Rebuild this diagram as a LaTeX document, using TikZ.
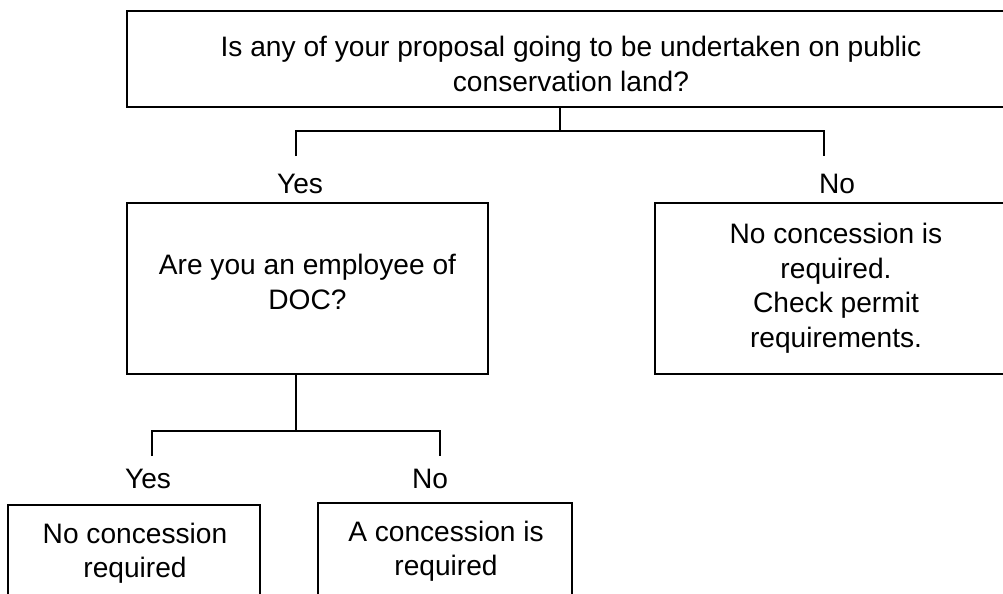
\documentclass[tikz,border=0pt]{standalone}
\usepackage{fontspec}
\setmainfont{Liberation Sans}
\newdimen\unitpx \unitpx=0.75pt
\begin{document}
\begin{tikzpicture}[x=0.75pt,y=-0.75pt,
  box/.style={draw, line width=1.2pt, inner sep=0pt, outer sep=0pt},
  txt/.style={align=center, inner sep=0pt, font=\fontsize{21.1pt}{25.9pt}\selectfont},
  lbl/.style={inner sep=0pt, anchor=base, font=\fontsize{21.1pt}{25.9pt}\selectfont},
  conn/.style={line width=1.2pt}]
\useasboundingbox (0,0) rectangle (1003,593);
\clip (0,0) rectangle (1003,593);
% boxes
\node[box, minimum width=888\unitpx, minimum height=96\unitpx] (q1) at (571,59) {};
\node[box, minimum width=361\unitpx, minimum height=171\unitpx] (q2) at (307.5,288.5) {};
\node[box, minimum width=362\unitpx, minimum height=171\unitpx] (r1) at (836,288.5) {};
\node[box, minimum width=252\unitpx, minimum height=96\unitpx] (r2) at (134,553) {};
\node[box, minimum width=254\unitpx, minimum height=98\unitpx] (r3) at (445,552) {};
% texts
\node[txt] (q1t) at (571,63.75) {Is any of your proposal going to be undertaken on public\\conservation land?};
\node[txt] (q2t) at (307.5,282) {Are you an employee of\\DOC?};
\node[txt] (r1t) at (836,288) {No concession is\\required.\\Check permit\\requirements.};
\node[txt] (r2t) at (135,553) {No concession\\required};
\node[txt] (r3t) at (446,551) {A concession is\\required};
% labels
\node[lbl] (y1) at (300,193) {Yes};
\node[lbl] (n1) at (837,193) {No};
\node[lbl] (y2) at (148,488) {Yes};
\node[lbl] (n2) at (430,488) {No};
% connector points
\coordinate (j1) at (560,131);
\coordinate (j1l) at (296,131);
\coordinate (j1r) at (824,131);
\coordinate (e1l) at (296,156);
\coordinate (e1r) at (824,156);
\coordinate (j2) at (296,431);
\coordinate (j2l) at (152,431);
\coordinate (j2r) at (440,431);
\coordinate (e2l) at (152,456);
\coordinate (e2r) at (440,456);
% connectors
\draw[conn] (q1.south -| j1) -- (j1);
\draw[conn] (e1l) -- (j1l) -- (j1r) -- (e1r);
\draw[conn] (q2.south -| j2) -- (j2);
\draw[conn] (e2l) -- (j2l) -- (j2r) -- (e2r);
\end{tikzpicture}
\end{document}
